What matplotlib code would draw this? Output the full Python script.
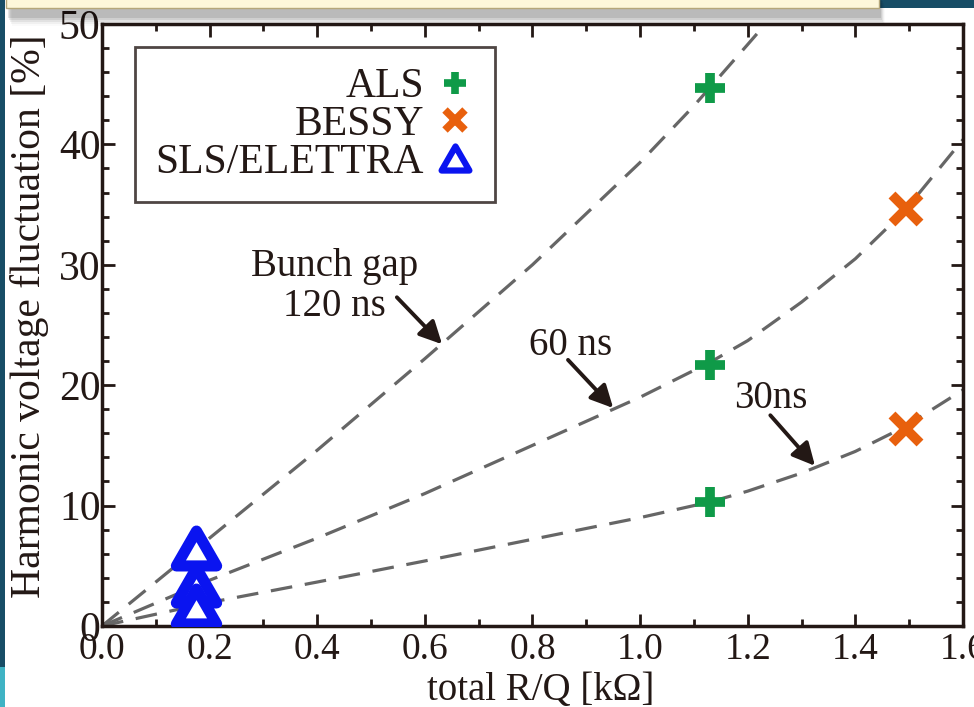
import matplotlib
matplotlib.use("Agg")
import matplotlib.pyplot as plt
from matplotlib.patches import Rectangle
from matplotlib.path import Path
from matplotlib.lines import Line2D
from matplotlib.ticker import MultipleLocator

plt.rcParams['font.family'] = ['Liberation Serif', 'DejaVu Serif']

# measured points
als_x = [1.13, 1.13, 1.13]
als_y = [44.7, 21.7, 10.3]
bessy_x = [1.494, 1.494]
bessy_y = [34.6, 16.4]
sls_x = [0.175, 0.175, 0.175]
sls_y = [6.5, 3.4, 1.7]

# bunch gap curves
gap120_x = [0.0, 0.2, 0.4, 0.6, 0.8, 1.0, 1.1, 1.2, 1.233]
gap120_y = [0.0, 7.3, 14.6, 22.2, 30.0, 38.5, 43.2, 48.3, 50.0]
gap60_x = [0.0, 0.2, 0.4, 0.6, 0.8, 1.0, 1.13, 1.2, 1.3, 1.4, 1.49, 1.6]
gap60_y = [0.0, 3.8, 7.3, 11.0, 15.0, 19.0, 21.9, 23.7, 26.9, 30.5, 34.4, 40.4]
gap30_x = [0.0, 0.2, 0.4, 0.6, 0.8, 1.0, 1.13, 1.2, 1.3, 1.4, 1.49, 1.6]
gap30_y = [0.0, 1.95, 3.65, 5.4, 7.2, 9.0, 10.3, 11.2, 12.7, 14.5, 16.5, 19.6]

TXT = '#231815'

# equilateral triangle marker
tri = Path([(-1, -0.866), (1, -0.866), (0, 0.866), (0, 0)],
           [Path.MOVETO, Path.LINETO, Path.LINETO, Path.CLOSEPOLY])

fig = plt.figure(figsize=(9.74, 7.07), dpi=100)
fig.patch.set_facecolor('white')

# slide decorations around the plot
fig.patches.append(Rectangle((0, 0.057), 0.0055, 0.943, transform=fig.transFigure,
                             facecolor='#174d66', edgecolor='none', zorder=0))
fig.patches.append(Rectangle((0, 0), 0.0055, 0.057, transform=fig.transFigure,
                             facecolor='#3fb3c4', edgecolor='none', zorder=0))
fig.patches.append(Rectangle((0.90, 0.988), 0.10, 0.012, transform=fig.transFigure,
                             facecolor='#174d66', edgecolor='none', zorder=0))
for i, a in enumerate([0.10, 0.08, 0.06, 0.04, 0.02]):
    fig.patches.append(Rectangle((0.008 + 0.001 * i, 0.975 - 0.003 * i), 0.897, 0.03,
                                 transform=fig.transFigure, facecolor='black',
                                 alpha=a, edgecolor='none', zorder=0))
fig.patches.append(Rectangle((0.006, 0.988), 0.896, 0.02, transform=fig.transFigure,
                             facecolor='#fdf7da', edgecolor='#b5a77a', lw=1, zorder=1))

ax = fig.add_axes([0.1047, 0.1146, 0.8840, 0.8515])

for gx, gy in [(gap120_x, gap120_y), (gap60_x, gap60_y), (gap30_x, gap30_y)]:
    ax.plot(gx, gy, color='#666666', lw=2.3, dashes=(6.8, 4.0), zorder=2)

ax.plot(als_x, als_y, ls='none', marker='+', ms=22, mew=7, color='#0f9a48', zorder=4)
ax.plot(bessy_x, bessy_y, ls='none', marker='x', ms=20, mew=7, color='#e8600d', zorder=4)
ax.plot(sls_x, sls_y, ls='none', marker=tri, ms=29, mew=8, mec='#0a14f0', mfc='white', zorder=4)

# arrows to each curve
arw = dict(arrowstyle='-|>', color=TXT, lw=2.8, mutation_scale=34, shrinkA=0, shrinkB=0)
ax.text(0.432, 28.2, 'Bunch gap\n120 ns', ha='center', va='center', fontsize=28,
        color=TXT, linespacing=1.08, zorder=5)
ax.annotate('', xy=(0.632, 23.4), xytext=(0.548, 27.3), arrowprops=arw, zorder=5)
ax.text(0.870, 23.3, '60 ns', ha='center', va='center', fontsize=28, color=TXT, zorder=5)
ax.annotate('', xy=(0.950, 18.1), xytext=(0.866, 22.1), arrowprops=arw, zorder=5)
ax.text(1.243, 18.9, '30ns', ha='center', va='center', fontsize=28, color=TXT, zorder=5)
ax.annotate('', xy=(1.325, 13.3), xytext=(1.242, 17.5), arrowprops=arw, zorder=5)

ax.set_xlim(0, 1.6)
ax.set_ylim(0, 50)
ax.xaxis.set_major_locator(MultipleLocator(0.2))
ax.xaxis.set_minor_locator(MultipleLocator(0.1))
ax.yaxis.set_major_locator(MultipleLocator(10))
ax.yaxis.set_minor_locator(MultipleLocator(2))
ax.set_xticklabels([f'{v:.1f}' for v in ax.get_xticks()])
ax.tick_params(which='both', direction='in', top=True, right=True, width=2,
               labelcolor=TXT, color=TXT)
ax.tick_params(which='major', length=9)
ax.tick_params(axis='x', which='major', labelsize=27, pad=5)
ax.tick_params(axis='y', which='major', labelsize=30, pad=1)
ax.tick_params(which='minor', length=5)
for s in ax.spines.values():
    s.set_linewidth(2.5)
    s.set_color(TXT)

ax.set_xlabel('total R/Q [kΩ]', fontsize=28, color=TXT)
ax.set_ylabel('Harmonic voltage fluctuation [%]', fontsize=30, color=TXT)
ax.xaxis.set_label_coords(0.51, -0.076)
ax.yaxis.set_label_coords(-0.061, 0.515)

handles = [
    Line2D([], [], ls='none', marker='+', ms=16, mew=5.5, color='#0f9a48'),
    Line2D([], [], ls='none', marker='x', ms=14, mew=5.5, color='#e8600d'),
    Line2D([], [], ls='none', marker=tri, ms=20, mew=4.5, mec='#0a14f0', mfc='white'),
]
leg = ax.legend(handles, ['ALS', 'BESSY', 'SLS/ELETTRA'], loc='upper left',
                bbox_to_anchor=(0.038, 0.962), markerfirst=False, fontsize=30,
                frameon=True, fancybox=False, edgecolor=TXT, labelspacing=-0.02,
                handlelength=0.9, handletextpad=0.3, borderpad=0.5, borderaxespad=0)
leg.get_frame().set_linewidth(2)
for t in leg.get_texts():
    t.set_color(TXT)

fig.savefig('out.png', dpi=100)
